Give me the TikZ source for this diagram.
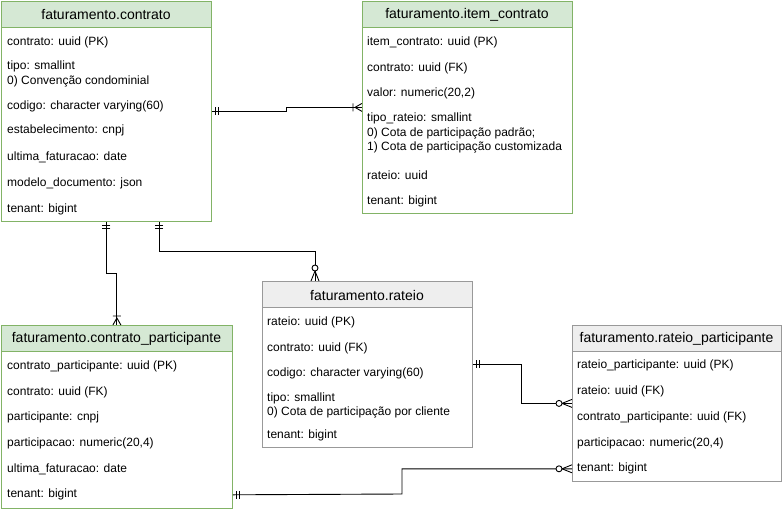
\documentclass[tikz,border=0pt]{standalone}
\usepackage{fontspec}
\setmainfont{Liberation Sans}
\usetikzlibrary{calc}
\definecolor{gfill}{HTML}{D5E8D4}
\definecolor{gline}{HTML}{82B366}
\definecolor{hfill}{HTML}{EEEEEE}
\definecolor{hline}{HTML}{999999}
\tikzset{
  tbl/.style={draw, fill=white, line width=0.8pt, inner sep=0pt, anchor=north west, rectangle},
  gtbl/.style={tbl, draw=gline},
  htbl/.style={tbl, draw=hline},
  hdr/.style={font=\fontsize{14}{16}\selectfont, inner sep=0pt, anchor=center},
  row/.style={font=\fontsize{12}{14.5}\selectfont, inner sep=0pt, anchor=west, align=left},
  conn/.style={line width=0.9pt},
  mandone/.pic={\draw[line width=0.9pt] (4,-4) -- (4,4) (7,-4) -- (7,4);},
  onemany/.pic={\draw[line width=0.9pt] (0,-4) -- (7,0) -- (0,4) (9,-4) -- (9,4);},
  zeromany/.pic={\draw[line width=0.9pt] (0,-4) -- (10,0) -- (0,4); \draw[line width=0.9pt, fill=white] (13,0) circle (3);}
}
\begin{document}
\begin{tikzpicture}[x=1pt,y=-1pt]
\useasboundingbox (0,0) rectangle (783,511);

% contrato
\node[gtbl, minimum width=210pt, minimum height=220pt] (contrato) at (1,1) {};
\filldraw[fill=gfill, draw=gline, line width=0.8pt] (contrato.north west) rectangle ++(210,26);
\node[hdr] (contratoH) at (106,15) {faturamento.contrato};
\node[row] (c1) at (7,42) {contrato: uuid (PK)};
\node[row] (c2) at (7,74) {tipo: smallint\\0) Convenção condominial};
\node[row] (c3) at (7,106) {codigo: character varying(60)};
\node[row] (c4) at (7,130) {estabelecimento: cnpj};
\node[row] (c5) at (7,157) {ultima\_faturacao: date};
\node[row] (c6) at (7,183) {modelo\_documento: json};
\node[row] (c7) at (7,209) {tenant: bigint};

% item_contrato
\node[gtbl, minimum width=210pt, minimum height=212pt] (item) at (362,1) {};
\filldraw[fill=gfill, draw=gline, line width=0.8pt] (item.north west) rectangle ++(210,26);
\node[hdr] (itemH) at (467,15) {faturamento.item\_contrato};
\node[row] (i1) at (367,42) {item\_contrato: uuid (PK)};
\node[row] (i2) at (367,68) {contrato: uuid (FK)};
\node[row] (i3) at (367,93) {valor: numeric(20,2)};
\node[row] (i4) at (367,133) {tipo\_rateio: smallint\\0) Cota de participação padrão;\\1) Cota de participação customizada};
\node[row] (i5) at (367,175) {rateio: uuid};
\node[row] (i6) at (367,201) {tenant: bigint};

% rateio
\node[htbl, minimum width=210pt, minimum height=166pt] (rateio) at (262,281) {};
\filldraw[fill=hfill, draw=hline, line width=0.8pt] (rateio.north west) rectangle ++(210,26);
\node[hdr] (rateioH) at (367,295) {faturamento.rateio};
\node[row] (r1) at (267,322) {rateio: uuid (PK)};
\node[row] (r2) at (267,348) {contrato: uuid (FK)};
\node[row] (r3) at (267,373) {codigo: character varying(60)};
\node[row] (r4) at (267,405.5) {tipo: smallint\\0) Cota de participação por cliente};
\node[row] (r5) at (267,435) {tenant: bigint};

% contrato_participante
\node[gtbl, minimum width=231pt, minimum height=183pt] (cp) at (1,325) {};
\filldraw[fill=gfill, draw=gline, line width=0.8pt] (cp.north west) rectangle ++(231,26);
\node[hdr] (cpH) at (116.5,339) {faturamento.contrato\_participante};
\node[row] (p1) at (7,366) {contrato\_participante: uuid (PK)};
\node[row] (p2) at (7,392) {contrato: uuid (FK)};
\node[row] (p3) at (7,417) {participante: cnpj};
\node[row] (p4) at (7,443) {participacao: numeric(20,4)};
\node[row] (p5) at (7,469) {ultima\_faturacao: date};
\node[row] (p6) at (7,494) {tenant: bigint};

% rateio_participante
\node[htbl, minimum width=209pt, minimum height=156pt] (rp) at (572,325) {};
\filldraw[fill=hfill, draw=hline, line width=0.8pt] (rp.north west) rectangle ++(209,26);
\node[hdr] (rpH) at (676.5,339) {faturamento.rateio\_participante};
\node[row] (q1) at (577,365) {rateio\_participante: uuid (PK)};
\node[row] (q2) at (577,391) {rateio: uuid (FK)};
\node[row] (q3) at (577,417) {contrato\_participante: uuid (FK)};
\node[row] (q4) at (577,443) {participacao: numeric(20,4)};
\node[row] (q5) at (577,468) {tenant: bigint};

% connection points
\coordinate (cS2) at ($(contrato.south west)+(158,0)$);
\coordinate (rN) at ($(rateio.north west)+(53,0)$);
\coordinate (cpT) at ($(cp.south east)+(0,-14)$);
\coordinate (rpT) at ($(rp.south west)+(0,-13)$);

% connectors
\draw[conn] (contrato.east) -- ++(75,0) |- (item.west);
\pic at (contrato.east) {mandone};
\pic[rotate=180] at (item.west) {onemany};

\draw[conn] (contrato.south) -- ++(0,52) -| (cp.north);
\pic[rotate=-90] at (contrato.south) {mandone};
\pic[rotate=90] at (cp.north) {onemany};

\draw[conn] (cS2) -- ++(0,30) -| (rN);
\pic[rotate=-90] at (cS2) {mandone};
\pic[rotate=90] at (rN) {zeromany};

\draw[conn] (rateio.east) -- ++(49,0) |- (rp.west);
\pic at (rateio.east) {mandone};
\pic[rotate=180] at (rp.west) {zeromany};

\draw[conn] (cpT) -- (402,494) |- (rpT);
\pic at (cpT) {mandone};
\pic[rotate=180] at (rpT) {zeromany};
\end{tikzpicture}
\end{document}
